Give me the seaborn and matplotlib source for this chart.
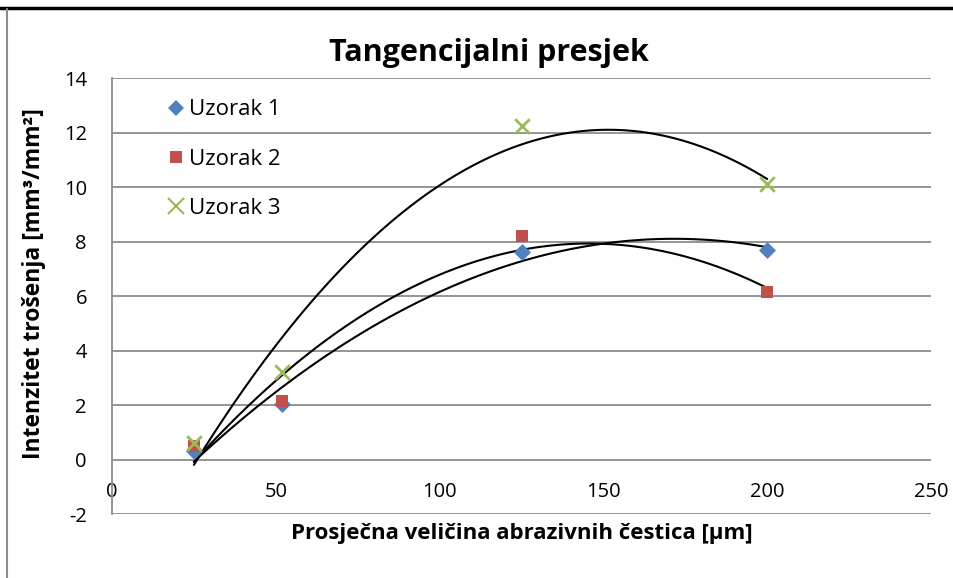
import matplotlib
matplotlib.use("Agg")
import matplotlib.pyplot as plt
import matplotlib.lines as mlines
import numpy as np
import pandas as pd
import seaborn as sns

# Measured wear intensity for three samples vs. mean abrasive particle size
particle_size = [25, 52, 125, 200]
uzorak_1 = [0.3, 2.05, 7.6, 7.7]
uzorak_2 = [0.5, 2.15, 8.2, 6.15]
uzorak_3 = [0.6, 3.2, 12.25, 10.1]

series_names = ["Uzorak 1", "Uzorak 2", "Uzorak 3"]
series_values = [uzorak_1, uzorak_2, uzorak_3]
colors = ["#4F81BD", "#C0504D", "#9BBB59"]
markers = ["D", "s", "x"]
marker_sizes = [75, 75, 110]

x_ticks = [0, 50, 100, 150, 200, 250]
y_ticks = [-2, 0, 2, 4, 6, 8, 10, 12, 14]

df = pd.DataFrame({
    "size": particle_size * len(series_names),
    "value": sum(series_values, []),
    "sample": [n for n in series_names for _ in particle_size],
})

sns.set_theme(style="white")
plt.rcParams["font.family"] = ["Open Sans", "DejaVu Sans"]
plt.rcParams["text.color"] = "black"
plt.rcParams["axes.labelcolor"] = "black"
plt.rcParams["xtick.color"] = "black"
plt.rcParams["ytick.color"] = "black"

fig = plt.figure(figsize=(9.54, 5.78), dpi=100)
ax = fig.add_axes([0.1174, 0.1107, 0.8585, 0.7543])

grid_col = "#8c8c8c"
for yv in y_ticks:
    ax.axhline(yv, color=grid_col, lw=1.3, zorder=0)

# second-order polynomial trendlines
for name in series_names:
    sub = df[df["sample"] == name]
    sns.regplot(data=sub, x="size", y="value", order=2, ci=None, scatter=False,
                truncate=True, ax=ax, line_kws=dict(color="black", lw=1.5, zorder=2))

for name, col, mk, ms in zip(series_names, colors, markers, marker_sizes):
    sub = df[df["sample"] == name]
    sns.scatterplot(data=sub, x="size", y="value", color=col, marker=mk, s=ms,
                    linewidth=2 if mk == "x" else 0, ax=ax, zorder=3, label=name)

ax.spines["bottom"].set_position(("data", 0))
ax.spines["bottom"].set_visible(False)
ax.spines["top"].set_visible(False)
ax.spines["right"].set_visible(False)
ax.spines["left"].set_color(grid_col)
ax.spines["left"].set_linewidth(1.3)

ax.set_xlim(0, 250)
ax.set_ylim(-2, 14)
ax.set_xticks(x_ticks)
ax.set_yticks(y_ticks)
ax.set_xticklabels([str(t) for t in x_ticks], fontsize=14.5)
ax.set_yticklabels([str(t) for t in y_ticks], fontsize=14.5)
ax.tick_params(axis="x", length=0, pad=16)
ax.tick_params(axis="y", length=0, pad=18)

ax.set_xlabel("Prosječna veličina abrazivnih čestica [µm]", fontsize=16,
              fontweight="bold")
ax.set_ylabel("Intenzitet trošenja [mm³/mm²]", fontsize=16.5, fontweight="bold")
ax.xaxis.set_label_coords(0.5, -0.02)
ax.yaxis.set_label_coords(-0.08, 0.528)
ax.set_title("Tangencijalni presjek", fontsize=22, fontweight="bold", pad=12,
             x=0.46)

handles = [mlines.Line2D([], [], color=c, marker=m, linestyle="none",
                         markersize=8.5 if m != "x" else 11,
                         markeredgewidth=1.5 if m == "x" else 0)
           for c, m in zip(colors, markers)]
ax.legend(handles, series_names, loc="upper left", bbox_to_anchor=(0.04, 0.997),
          frameon=False, fontsize=16, labelspacing=1.28, handletextpad=0.1,
          handlelength=1.0)

# chart frame
fig.add_artist(mlines.Line2D([0, 1], [0.986, 0.986], color="black", lw=2.5,
                             transform=fig.transFigure))
fig.add_artist(mlines.Line2D([0.007, 0.007], [0, 0.984], color=grid_col, lw=1.5,
                             transform=fig.transFigure))

fig.savefig("out.png", dpi=100)
